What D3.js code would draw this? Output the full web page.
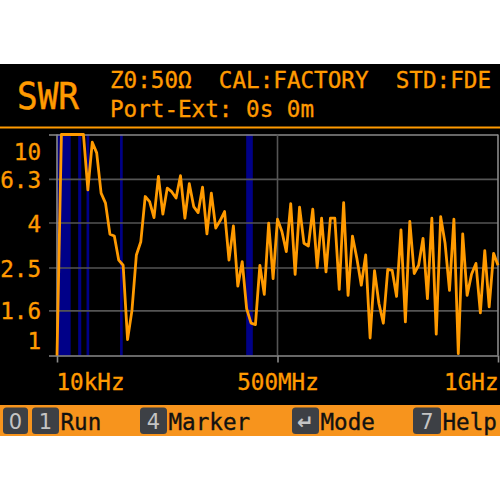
<!DOCTYPE html>
<html>
<head>
<meta charset="utf-8">
<script src="https://cdn.jsdelivr.net/npm/d3@7"></script>
<style>
html,body{margin:0;padding:0;background:#fff;}
svg{display:block;}
</style>
</head>
<body>
<svg id="chart" width="500" height="500"></svg>
<script>
// ---- data ----
const freqMHz = [0.01,10,20,30,40,50,60,70,80,90,100,110,120,130,140,150,160,170,180,190,200,
  210,220,230,240,250,260,270,280,290,300,310,320,330,340,350,360,370,380,390,400,
  410,420,430,440,450,460,470,480,490,500,510,520,530,540,550,560,570,580,590,600,
  610,620,630,640,650,660,670,680,690,700,710,720,730,740,750,760,770,780,790,800,
  810,820,830,840,850,860,870,880,890,900,910,920,930,940,950,960,970,980,990,1000];
const swr = [1.0,12,12,12,12,12,10.5,5.62,9.23,8.26,5.43,4.89,3.54,3.47,2.70,2.56,1.18,1.60,2.85,3.27,5.24,
  4.97,4.21,6.46,4.36,5.72,5.51,5.16,6.51,4.18,5.99,4.72,4.43,5.78,3.55,5.43,3.77,4.08,4.48,2.70,3.86,
  2.06,2.66,1.63,1.40,1.38,2.56,1.89,3.97,2.23,4.14,3.64,2.95,4.86,2.33,4.69,3.22,3.13,4.59,2.50,4.18,
  2.39,4.18,4.18,1.99,4.92,1.87,3.47,2.75,2.08,2.85,1.20,2.42,1.72,1.40,2.45,2.43,1.85,3.70,1.42,4.04,
  2.35,2.56,3.39,1.81,4.18,1.25,4.25,3.22,1.97,4.14,1.02,3.55,1.87,2.33,2.61,1.56,2.98,1.66,2.90,2.56];
const bandsMHz = [[0,31],[48,55],[67,73],[143,149],[429,444]];
const yTicks = [1,1.6,2.5,4,6.3,10];
const yTickLabels = ["1","1.6","2.5","4","6.3","10"];
const xTicks = [0.01,500,1000];
const xTickLabels = ["10kHz","500MHz","1GHz"];
const title = "SWR";
const infoLine1 = "Z0:50Ω  CAL:FACTORY  STD:FDE";
const infoLine2 = "Port-Ext: 0s 0m";
const keys = [["0"],["1","Run"],["4","Marker"],["↵","Mode"],["7","Help"]];

// ---- layout ----
const ORANGE = "#ff9a00";
const MONO = "'DejaVu Sans Mono', monospace";
const svg = d3.select("#chart");
const pLeft = 57, pRight = 498, pTop = 134.5, pBottom = 355.5;
const x = d3.scaleLinear().domain([0,1000]).range([pLeft,pRight]);
const y = d3.scaleLog().domain([1,10]).range([pBottom,pTop]).clamp(true);

// screen background
svg.append("rect").attr("x",0).attr("y",64).attr("width",500).attr("height",372).attr("fill","#000");

// header
svg.append("text").attr("x",17).attr("y",108.5).attr("fill",ORANGE).attr("stroke",ORANGE).attr("stroke-width",0.5)
  .attr("font-family",MONO).attr("font-size",38).attr("textLength",62).attr("lengthAdjust","spacingAndGlyphs")
  .text(title);
svg.append("text").attr("x",110).attr("y",88).attr("fill",ORANGE).attr("stroke",ORANGE).attr("stroke-width",0.35)
  .attr("font-family",MONO).attr("font-size",22.6).style("white-space","pre")
  .attr("textLength",381).attr("lengthAdjust","spacingAndGlyphs")
  .text(infoLine1);
svg.append("text").attr("x",110).attr("y",116.5).attr("fill",ORANGE).attr("stroke",ORANGE).attr("stroke-width",0.35)
  .attr("font-family",MONO).attr("font-size",22.6).style("white-space","pre")
  .text(infoLine2);
svg.append("line").attr("x1",0).attr("x2",500).attr("y1",127.5).attr("y2",127.5)
  .attr("stroke",ORANGE).attr("stroke-width",2);

// bands
svg.append("g").selectAll("rect").data(bandsMHz).join("rect")
  .attr("x",d=>x(d[0])).attr("width",d=>x(d[1])-x(d[0]))
  .attr("y",pTop).attr("height",pBottom-pTop).attr("fill","#000088");

// y axis / grid
const gy = svg.append("g").attr("transform",`translate(49,0)`)
  .call(d3.axisLeft(y).tickValues(yTicks).tickSize(-(pRight-49)).tickSizeOuter(0)
    .tickFormat((d,i)=>yTickLabels[i]).tickPadding(8));
gy.select(".domain").remove();
gy.selectAll(".tick line").attr("stroke",d=>(d===1||d===10)?"#8a8a8a":"#555").attr("stroke-width",1.6);
gy.selectAll(".tick text").attr("fill",ORANGE).attr("stroke",ORANGE).attr("stroke-width",0.35)
  .attr("font-family",MONO).attr("font-size",22.6)
  .attr("dy",d=>d===10?"1.12em":d===1?"-0.3em":"0.38em");

// vertical grid at mid tick
svg.append("line").attr("x1",x(500)).attr("x2",x(500)).attr("y1",pTop).attr("y2",pBottom)
  .attr("stroke","#555").attr("stroke-width",1.6);
// frame
svg.append("line").attr("x1",pLeft).attr("x2",pLeft).attr("y1",pTop).attr("y2",pBottom)
  .attr("stroke","#8a8a8a").attr("stroke-width",1.6);
svg.append("line").attr("x1",pRight).attr("x2",pRight).attr("y1",pTop).attr("y2",pBottom)
  .attr("stroke","#8a8a8a").attr("stroke-width",1.6);

// x axis
const gx = svg.append("g").attr("transform",`translate(0,${pBottom})`)
  .call(d3.axisBottom(x).tickValues(xTicks).tickSize(7).tickSizeOuter(0)
    .tickFormat((d,i)=>xTickLabels[i]));
gx.select(".domain").remove();
gx.selectAll(".tick line").attr("stroke","#8a8a8a").attr("stroke-width",1.6);
gx.selectAll(".tick text").attr("fill",ORANGE).attr("stroke",ORANGE).attr("stroke-width",0.35)
  .attr("font-family",MONO).attr("font-size",22.6)
  .attr("y",34.5).attr("dy",0)
  .attr("text-anchor",(d,i)=>i===0?"start":i===xTicks.length-1?"end":"middle")
  .attr("dx",(d,i)=>i===0?"-1":"0");

// trace
const line = d3.line().x((d,i)=>x(freqMHz[i])).y(d=>y(d));
svg.append("path").datum(swr).attr("d",line).attr("fill","none")
  .attr("stroke",ORANGE).attr("stroke-width",2.8).attr("stroke-linejoin","round");

// footer
svg.append("rect").attr("x",0).attr("y",405).attr("width",500).attr("height",31).attr("fill","#f7941d");
const keyPos = [[3,25],[32,27],[140,27],[292,27],[413,28]];
const fg = svg.append("g");
keys.forEach((k,i)=>{
  const [kx,kw] = keyPos[i];
  fg.append("rect").attr("x",kx).attr("y",407.5).attr("width",kw).attr("height",26.5).attr("rx",3.5)
    .attr("fill","#3d4045");
  fg.append("text").attr("x",kx+kw/2).attr("y",429).attr("text-anchor","middle")
    .attr("fill","#c4c4c4").attr("font-family","'DejaVu Sans', sans-serif").attr("font-size",k[0]==="↵"?20:21)
    .attr("font-weight",k[0]==="↵"?"bold":"normal")
    .text(k[0]);
  if(k[1]){
    fg.append("text").attr("x",kx+kw+1.5).attr("y",430).attr("fill","#111").attr("stroke","#111").attr("stroke-width",0.35)
      .attr("font-family",MONO).attr("font-size",22.6).text(k[1]);
  }
});
</script>
</body>
</html>
